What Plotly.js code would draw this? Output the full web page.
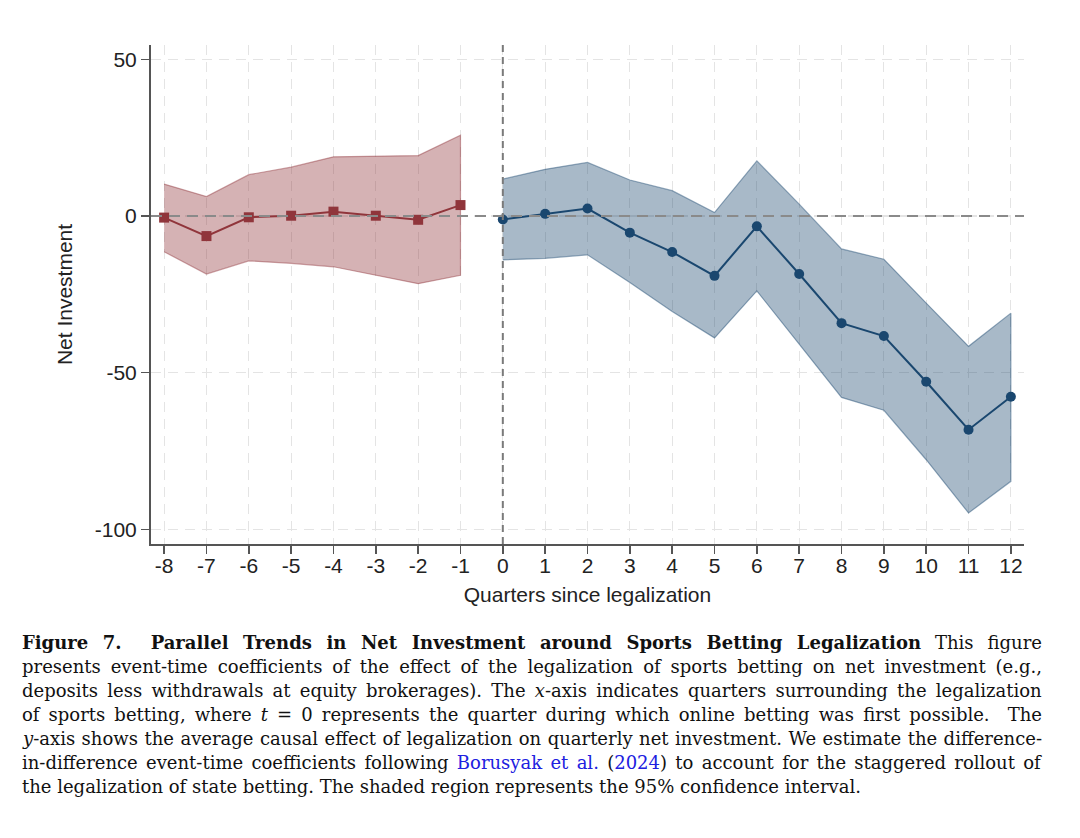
<!DOCTYPE html>
<html>
<head>
<meta charset="utf-8">
<script src="https://cdn.plot.ly/plotly-3.0.1.min.js"></script>
<style>
  html, body { margin: 0; padding: 0; background: #fff; }
  #chart { width: 1080px; height: 838px; }
</style>
</head>
<body>
<div id="chart"></div>
<script>
(function () {
  'use strict';

  // Event-time coefficients
  var preQuarters = [-8, -7, -6, -5, -4, -3, -2, -1];
  var preCoef = [-0.5, -6.4, -0.4, 0.1, 1.4, 0.1, -1.2, 3.5];
  var preUpper = [10.2, 6.2, 13.2, 15.6, 18.9, 19.0, 19.3, 25.8];
  var preLower = [-11.4, -18.5, -14.3, -15.1, -16.2, -18.8, -21.6, -18.9];

  var postQuarters = [0, 1, 2, 3, 4, 5, 6, 7, 8, 9, 10, 11, 12];
  var postCoef = [-1.1, 0.7, 2.4, -5.3, -11.5, -19.1, -3.3, -18.5, -34.2, -38.3, -52.9, -68.2, -57.7];
  var postUpper = [11.8, 14.9, 17.1, 11.5, 8.1, 1.1, 17.6, 3.8, -10.5, -13.8, -27.8, -41.6, -31.0];
  var postLower = [-14.0, -13.5, -12.4, -21.2, -30.5, -38.9, -23.9, -40.9, -57.9, -62.0, -77.8, -94.8, -84.7];

  var xTicks = [-8, -7, -6, -5, -4, -3, -2, -1, 0, 1, 2, 3, 4, 5, 6, 7, 8, 9, 10, 11, 12];
  var yTicks = [-100, -50, 0, 50];

  var captionLines = [
    '<b>Figure 7.  Parallel Trends in Net Investment around Sports Betting Legalization</b> This figure',
    'presents event-time coefficients of the effect of the legalization of sports betting on net investment (e.g.,',
    'deposits less withdrawals at equity brokerages). The <i>x</i>-axis indicates quarters surrounding the legalization',
    'of sports betting, where <i>t</i> = 0 represents the quarter during which online betting was first possible.  The',
    '<i>y</i>-axis shows the average causal effect of legalization on quarterly net investment. We estimate the difference-',
    'in-difference event-time coefficients following <span style="color:#2020e0">Borusyak et al.</span> (<span style="color:#2020e0">2024</span>) to account for the staggered rollout of',
    'the legalization of state betting. The shaded region represents the 95% confidence interval.'
  ];

  var sansFont = '"Liberation Sans", Arial, Helvetica, sans-serif';
  var serifFont = '"DejaVu Serif", "Liberation Serif", serif';
  var red = 'rgb(144, 53, 59)';
  var blue = 'rgb(26, 71, 111)';

  // band polygon: upper bound left-to-right, lower bound back
  function band(xs, up, lo, color, fill) {
    return {
      x: xs.concat(xs.slice().reverse()),
      y: up.concat(lo.slice().reverse()),
      type: 'scatter',
      mode: 'lines',
      fill: 'toself',
      fillcolor: fill,
      line: { color: color, width: 1.2 },
      hoverinfo: 'skip',
      showlegend: false
    };
  }

  var traces = [
    band(preQuarters, preUpper, preLower, 'rgba(144, 53, 59, 0.45)', 'rgba(144, 53, 59, 0.38)'),
    band(postQuarters, postUpper, postLower, 'rgba(26, 71, 111, 0.45)', 'rgba(26, 71, 111, 0.38)'),
    {
      x: preQuarters, y: preCoef, type: 'scatter', mode: 'lines+markers',
      line: { color: red, width: 2 },
      marker: { color: red, symbol: 'square', size: 10 },
      showlegend: false
    },
    {
      x: postQuarters, y: postCoef, type: 'scatter', mode: 'lines+markers',
      line: { color: blue, width: 2 },
      marker: { color: blue, symbol: 'circle', size: 10 },
      showlegend: false
    }
  ];

  // plot area spans pixel rows 45..544 of the 838px page
  var plotTop = 45, plotBottom = 544, plotLeft = 151, plotRight = 1024;
  var captionLeft = 20, captionRight = 1040;
  function paperY(py) { return (plotBottom - py) / (plotBottom - plotTop); }
  function paperX(px) { return (px - plotLeft) / (plotRight - plotLeft); }

  var annotations = captionLines.map(function (txt, i) {
    return {
      text: txt,
      xref: 'paper', yref: 'paper',
      x: paperX(captionLeft), y: paperY(642 + i * 24),
      xanchor: 'left', yanchor: 'middle',
      showarrow: false,
      align: 'left',
      font: { family: serifFont, size: 18, color: '#111' }
    };
  });

  var grid = {
    showgrid: true,
    gridcolor: '#e4e4e4',
    griddash: '10px,7px',
    gridwidth: 1.2,
    zeroline: false,
    showline: true,
    linecolor: '#555',
    linewidth: 2,
    ticks: 'outside',
    ticklen: 8,
    tickwidth: 1.5,
    tickcolor: '#555',
    tickfont: { family: sansFont, size: 21, color: '#222' }
  };

  var layout = {
    width: 1080,
    height: 838,
    paper_bgcolor: '#fff',
    plot_bgcolor: '#fff',
    margin: { l: plotLeft, r: 1080 - plotRight, t: plotTop, b: 838 - plotBottom },
    showlegend: false,
    xaxis: Object.assign({}, grid, {
      range: [-8.31, 12.31],
      tickvals: xTicks,
      ticktext: xTicks.map(String),
      ticklabelstandoff: -6,
      title: { text: 'Quarters since legalization', font: { family: sansFont, size: 21, color: '#222' }, standoff: 11 }
    }),
    yaxis: Object.assign({}, grid, {
      range: [-104.7, 54.6],
      tickvals: yTicks,
      ticktext: yTicks.map(String),
      title: { text: 'Net Investment', font: { family: sansFont, size: 21, color: '#222' }, standoff: 16 }
    }),
    shapes: [
      {
        type: 'line', xref: 'paper', x0: 0, x1: 1, yref: 'y', y0: 0, y1: 0,
        line: { color: '#8a8a8a', width: 2, dash: '11px,7px' }, layer: 'above'
      },
      {
        type: 'line', xref: 'x', x0: 0, x1: 0, yref: 'paper', y0: 0, y1: 1,
        line: { color: '#7a7a7a', width: 2, dash: '7px,5px' }, layer: 'above'
      }
    ],
    annotations: annotations
  };

  // justify every caption line but the last, like the typeset paragraph
  function justifyCaption(gd) {
    var texts = gd.querySelectorAll('.annotation-text');
    for (var i = 0; i < texts.length - 1; i++) {
      var el = texts[i];
      var spaces = (el.textContent.match(/ /g) || []).length;
      if (!spaces) continue;
      var extra = (captionRight - captionLeft - el.getBBox().width) / spaces;
      el.style.wordSpacing = extra.toFixed(2) + 'px';
    }
  }

  Plotly.newPlot('chart', traces, layout, { displayModeBar: false, staticPlot: true })
    .then(justifyCaption);
})();
</script>
</body>
</html>
